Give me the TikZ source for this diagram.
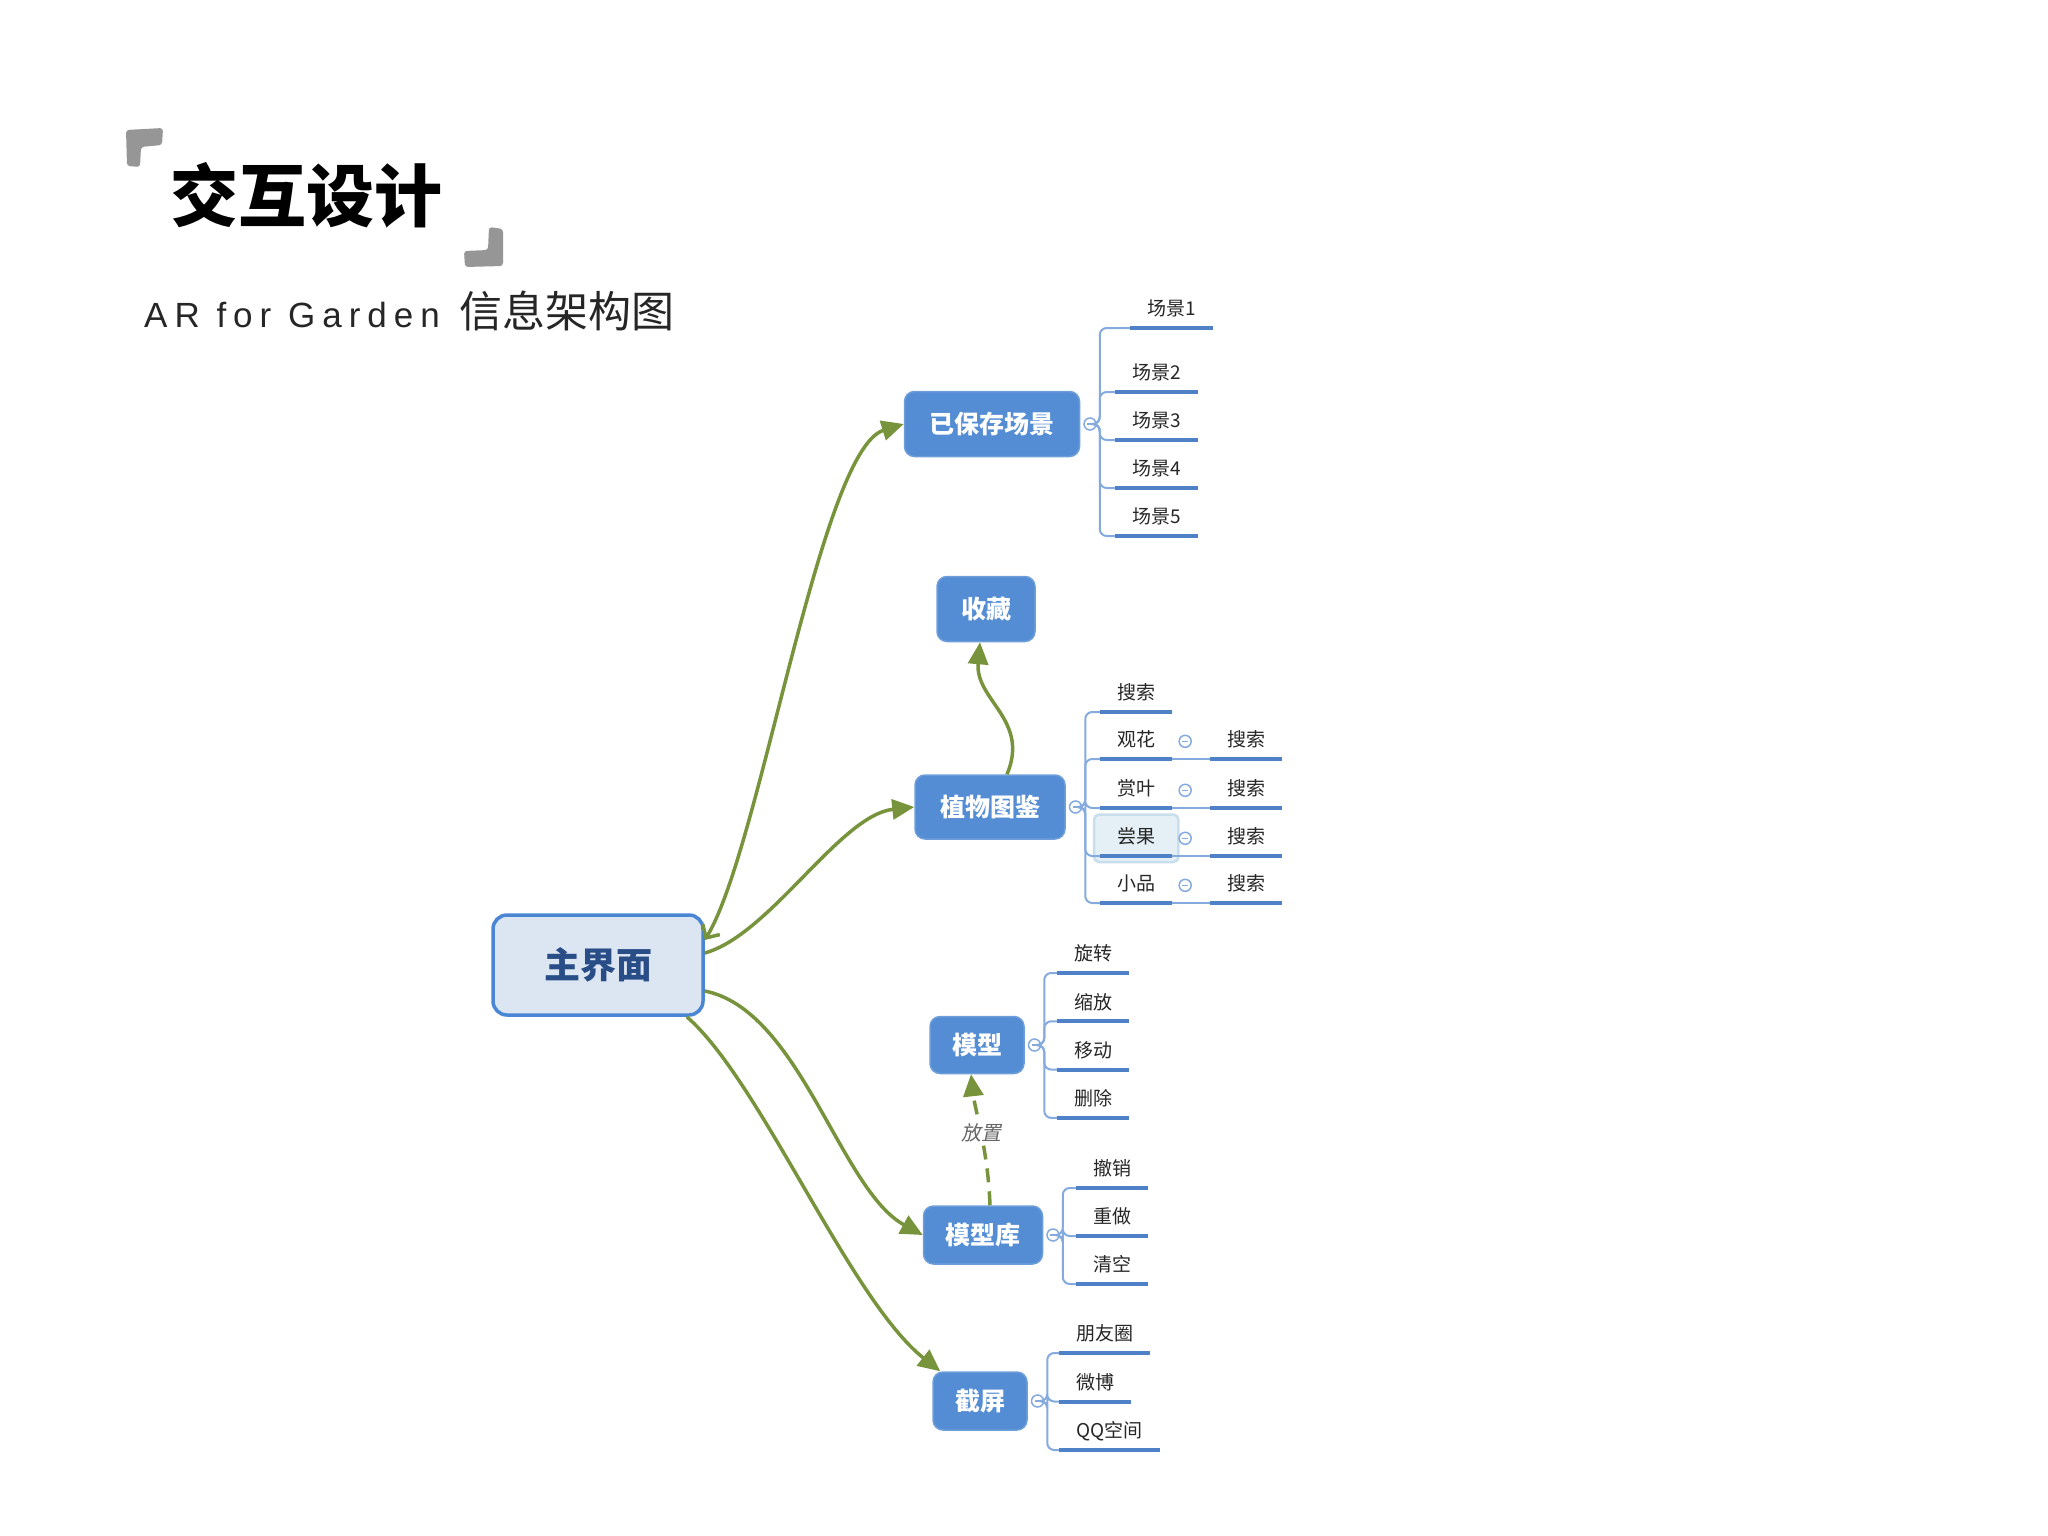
\documentclass[tikz,border=0pt]{standalone}
\usepackage{fontspec}
\setmainfont{Noto Sans CJK SC}
\newfontfamily\slantcjk[FakeSlant=0.2]{Noto Sans CJK SC}
\newfontfamily\latinsub[LetterSpace=20]{Liberation Sans}
\usepackage{tikz}
\usetikzlibrary{arrows.meta,positioning,fit,backgrounds}
\usepackage{xcolor}
\definecolor{boxblue}{RGB}{84,141,212}
\definecolor{mainfill}{RGB}{220,230,242}
\definecolor{mainline}{RGB}{74,134,212}
\definecolor{maintext}{RGB}{41,77,135}
\definecolor{lineblue}{RGB}{79,129,200}
\definecolor{twigblue}{RGB}{132,170,222}
\definecolor{linkgreen}{RGB}{119,147,60}
\definecolor{selfill}{RGB}{228,240,246}
\definecolor{selline}{RGB}{200,222,236}
\definecolor{bracketgray}{RGB}{150,150,150}
\tikzstyle{topic}=[draw=boxblue!85!white, line width=1.5pt, fill=boxblue, rounded corners=10pt, text=white, font=\fontsize{25}{25}\selectfont\bfseries, inner xsep=22pt, minimum height=58pt]
\tikzstyle{central}=[draw=mainline, line width=3.5pt, fill=mainfill, rounded corners=14pt, text=maintext, font=\fontsize{36}{36}\selectfont\bfseries, minimum width=210pt, minimum height=100pt]
\tikzstyle{leaf}=[anchor=south west, inner xsep=17pt, inner ysep=8pt, text height=15pt, text depth=4pt, font=\fontsize{19}{19}\selectfont, text=black!85]
\tikzstyle{uline}=[draw=lineblue, line width=4pt]
\tikzstyle{twig}=[draw=twigblue, line width=2pt, rounded corners=7pt]
\tikzstyle{fold}=[circle, draw=twigblue, line width=1.5pt, fill=white, minimum size=12pt, inner sep=0pt, path picture={\draw[twigblue, line width=1.2pt] ([xshift=-3pt]path picture bounding box.center) -- ([xshift=3pt]path picture bounding box.center);}]
\tikzstyle{link}=[draw=linkgreen, line width=3.5pt, -{Triangle[length=22pt,width=20pt]}]
\tikzstyle{sel}=[draw=selline, line width=2.5pt, fill=selfill, rounded corners=5pt, inner sep=6pt]

\begin{document}
\begin{tikzpicture}[x=1pt,y=1pt]

\useasboundingbox (0,0) rectangle (2048,-1536);

% title
\fill[bracketgray, rounded corners=3pt] (126,-130) -- (163,-128) -- (162,-145) -- (141,-147) -- (140,-167) -- (127,-166) -- cycle;
\fill[bracketgray, rounded corners=3pt] (489,-227) -- (503,-229) -- (503,-266) -- (465,-267) -- (464,-251) -- (488,-250) -- cycle;
\node[font=\fontsize{68}{68}\selectfont\bfseries] (title) at (306,-195) {交互设计};
\node[anchor=base west, inner sep=0pt, text=black!85] (subtitle) at (144,-327) {{\latinsub\fontsize{35}{35}\selectfont AR for Garden}\hspace{20pt}{\fontsize{43}{43}\selectfont 信息架构图}};

% topics
\node[central] (main) at (598,-965) {主界面};
\node[topic, minimum width=175pt, minimum height=65pt] (saved) at (992,-424) {已保存场景};
\node[topic, minimum width=98pt, minimum height=65pt] (fav) at (986,-609) {收藏};
\node[topic, minimum width=150pt, minimum height=64pt] (plant) at (990,-807) {植物图鉴};
\node[topic, minimum width=90pt, minimum height=57pt] (model) at (977,-1045) {模型};
\node[topic, minimum width=117pt, minimum height=58pt] (lib) at (983,-1235) {模型库};
\node[topic, minimum width=91pt, minimum height=58pt] (shot) at (980,-1401) {截屏};

% saved scenes
\node[fold, right=3pt of saved] (savedf) {};
\node[leaf] (s1) at (1130,-328) {场景1};
\foreach \i in {2,...,5}
  \node[leaf] (s\i) at (1115,-392-48*\i+96) {场景\i};
\foreach \i in {1,...,5} {
  \draw[twig] (savedf.east) -- ++(3pt,0) |- (s\i.south west);
  \draw[uline] (s\i.south west) -- (s\i.south east);
}

% plants
\node[fold, right=3pt of plant] (plantf) {};
\node[leaf] (p1) at (1100,-712) {搜索};
\foreach \i/\t/\y in {2/观花/759, 3/赏叶/808, 4/尝果/856, 5/小品/903} {
  \node[leaf] (p\i) at (1100,-\y) {\t};
  \node[fold, right=6pt of p\i] (pf\i) {};
  \node[leaf] (q\i) at (1210,-\y) {搜索};
  \draw[twig] (p\i.south east) -- (q\i.south west);
  \draw[uline] (q\i.south west) -- (q\i.south east);
}
\begin{scope}[on background layer]
\node[sel, fit=(p4)] (pick) {};
\end{scope}
\foreach \i in {1,...,5} {
  \draw[twig] (plantf.east) -- ++(3pt,0) |- (p\i.south west);
  \draw[uline] (p\i.south west) -- (p\i.south east);
}

% model
\node[fold, right=3pt of model] (modelf) {};
\foreach \i/\t in {1/旋转, 2/缩放, 3/移动, 4/删除}
  \node[leaf] (m\i) at (1057,-973-48.3*\i+48.3) {\t};
\foreach \i in {1,...,4} {
  \draw[twig] (modelf.east) -- ++(3pt,0) |- (m\i.south west);
  \draw[uline] (m\i.south west) -- (m\i.south east);
}

% model library
\node[fold, right=3pt of lib] (libf) {};
\foreach \i/\t in {1/撤销, 2/重做, 3/清空}
  \node[leaf] (l\i) at (1076,-1188-48*\i+48) {\t};
\foreach \i in {1,...,3} {
  \draw[twig] (libf.east) -- ++(3pt,0) |- (l\i.south west);
  \draw[uline] (l\i.south west) -- (l\i.south east);
}

% screenshot
\node[fold, right=3pt of shot] (shotf) {};
\foreach \i/\t in {1/朋友圈, 2/微博, 3/QQ空间}
  \node[leaf] (c\i) at (1059,-1353-48.5*\i+48.5) {\t};
\foreach \i in {1,...,3} {
  \draw[twig] (shotf.east) -- ++(3pt,0) |- (c\i.south west);
  \draw[uline] (c\i.south west) -- (c\i.south east);
}

% links
\draw[link, {Straight Barb[length=10pt,width=20pt]}-{Triangle[length=22pt,width=20pt]}] ([yshift=25pt]main.east) .. controls (760,-850) and (820,-450) .. (saved.west);
\draw[link] ([yshift=12pt]main.east) .. controls (770,-935) and (840,-815) .. (plant.west);
\draw[link] ([yshift=-26pt]main.east) .. controls (800,-1010) and (840,-1190) .. (lib.west);
\draw[link] ([xshift=-18pt]main.south east) .. controls (760,-1080) and (850,-1300) .. ([xshift=8pt]shot.north west);
\draw[link] ([xshift=17pt]plant.north) .. controls (1030,-720) and (975,-700) .. ([xshift=-6pt]fav.south);
\draw[link, dash pattern=on 14pt off 9pt] ([xshift=7pt]lib.north) .. controls (988,-1150) and (975,-1110) .. ([xshift=-6pt]model.south)
  node[pos=0.5, fill=white, inner sep=2pt, text=black!60, font=\slantcjk\fontsize{20}{20}\selectfont] (put) {放置};

\end{tikzpicture}
\end{document}
